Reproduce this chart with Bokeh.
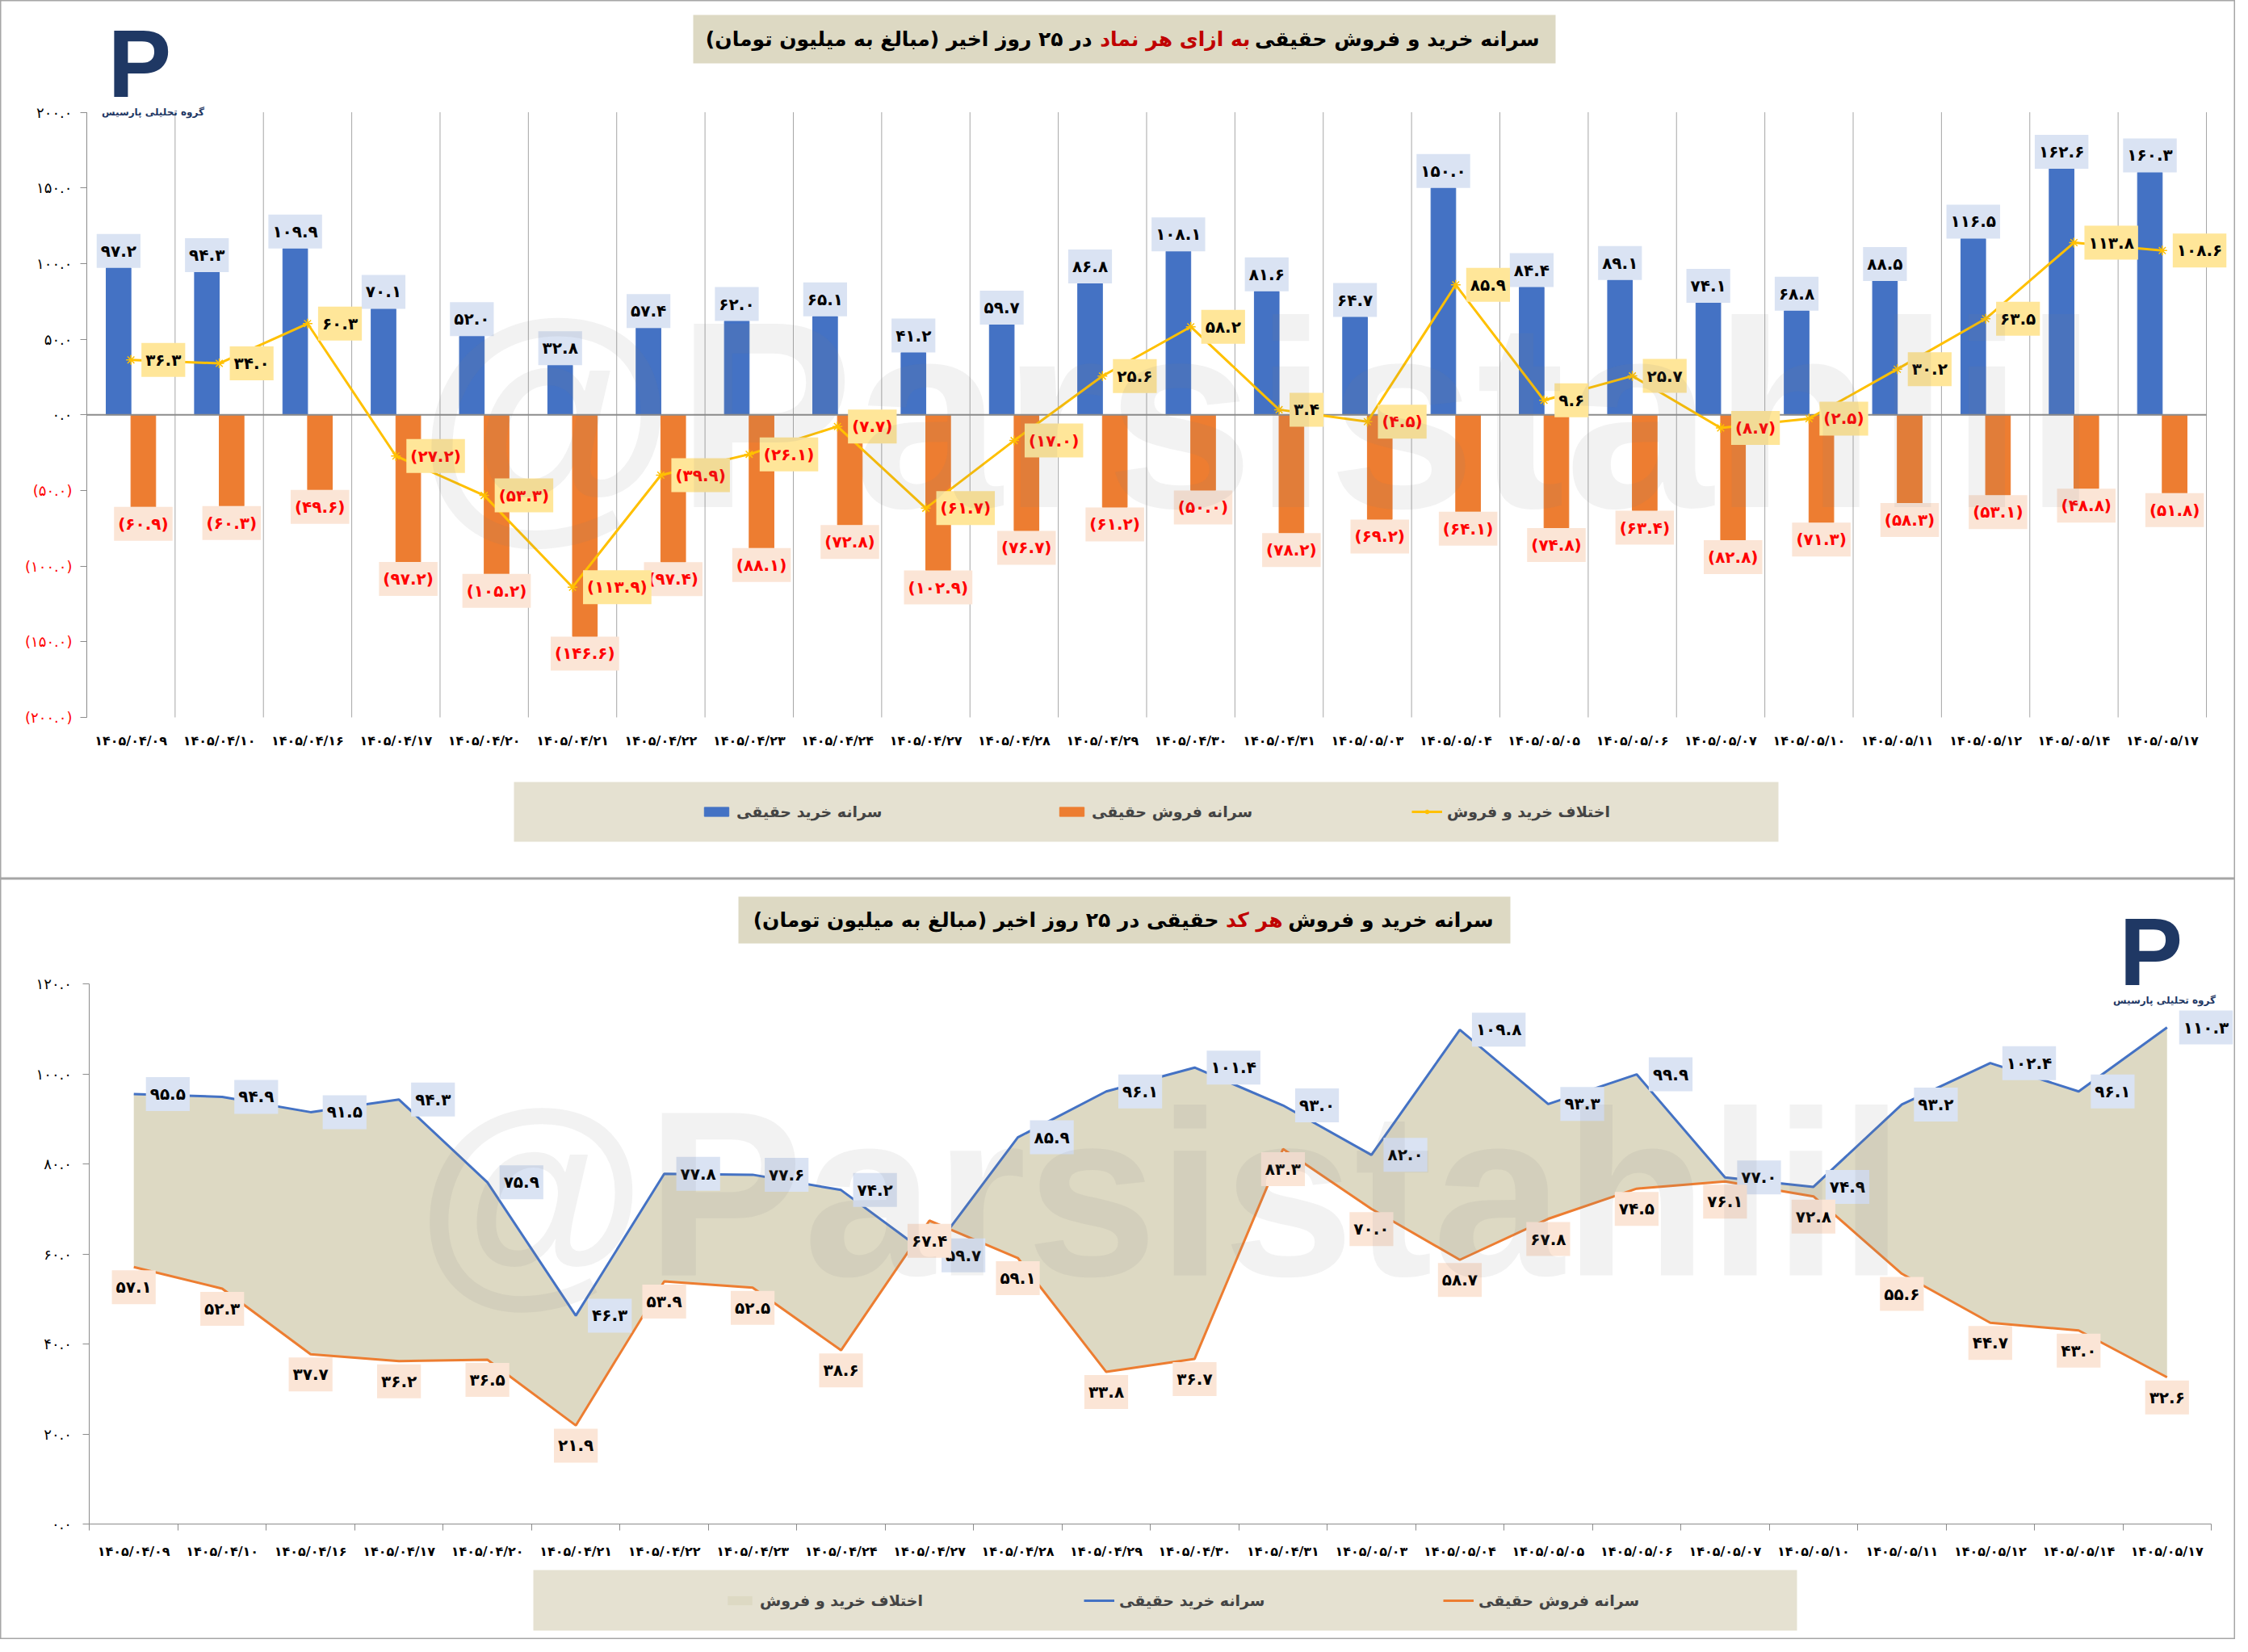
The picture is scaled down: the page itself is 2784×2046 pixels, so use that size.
from bokeh.plotting import figure
from bokeh.layouts import column
from bokeh.models import (ColumnDataSource, FixedTicker, Label, BoxAnnotation,
                          Legend, LegendItem)
from bokeh.core.properties import value
from bokeh.embed import file_html
from bokeh.resources import INLINE

# ---- data -------------------------------------------------------------
dates = ["1405/04/09", "1405/04/10", "1405/04/16", "1405/04/17", "1405/04/20",
         "1405/04/21", "1405/04/22", "1405/04/23", "1405/04/24", "1405/04/27",
         "1405/04/28", "1405/04/29", "1405/04/30", "1405/04/31", "1405/05/03",
         "1405/05/04", "1405/05/05", "1405/05/06", "1405/05/07", "1405/05/10",
         "1405/05/11", "1405/05/12", "1405/05/14", "1405/05/17"]

# per symbol (top chart)
buy_symbol = [97.2, 94.3, 109.9, 70.1, 52.0, 32.8, 57.4, 62.0, 65.1, 41.2, 59.7, 86.8,
              108.1, 81.6, 64.7, 150.0, 84.4, 89.1, 74.1, 68.8, 88.5, 116.5, 162.6, 160.3]
sell_symbol = [60.9, 60.3, 49.6, 97.2, 105.2, 146.6, 97.4, 88.1, 72.8, 102.9, 76.7, 61.2,
               50.0, 78.2, 69.2, 64.1, 74.8, 63.4, 82.8, 71.3, 58.3, 53.1, 48.8, 51.8]
diff_symbol = [36.3, 34.0, 60.3, -27.2, -53.3, -113.9, -39.9, -26.1, -7.7, -61.7, -17.0, 25.6,
               58.2, 3.4, -4.5, 85.9, 9.6, 25.7, -8.7, -2.5, 30.2, 63.5, 113.8, 108.6]

# per code (bottom chart)
buy_code = [95.5, 94.9, 91.5, 94.3, 75.9, 46.3, 77.8, 77.6, 74.2, 59.7, 85.9, 96.1,
            101.4, 93.0, 82.0, 109.8, 93.3, 99.9, 77.0, 74.9, 93.2, 102.4, 96.1, 110.3]
sell_code = [57.1, 52.3, 37.7, 36.2, 36.5, 21.9, 53.9, 52.5, 38.6, 67.4, 59.1, 33.8,
             36.7, 83.3, 70.0, 58.7, 67.8, 74.5, 76.1, 72.8, 55.6, 44.7, 43.0, 32.6]

top_yticks = [-200, -150, -100, -50, 0, 50, 100, 150, 200]
bottom_yticks = [0, 20, 40, 60, 80, 100, 120]

# ---- helpers ----------------------------------------------------------
FA = str.maketrans("0123456789", "۰۱۲۳۴۵۶۷۸۹")
RLM = "\u200f"
FONT = "DejaVu Sans"
BLUE, ORANGE, YELLOW = "#4472c4", "#ed7d31", "#ffc000"
GRAY = "#8c8c8c"
TAN = "#ddd9c3"
LEGBG = "#e5e1d1"


def fa(v):
    s = f"{abs(v):.1f}".translate(FA)
    return f"({s})" if v < 0 else s


n = len(dates)
centers = [i + 0.5 for i in range(n)]
edges = list(range(n + 1))
fa_dates = [d.translate(FA) for d in dates]
W = 2768


def screen_box(p, left, right, top, bottom, color):
    p.add_layout(BoxAnnotation(left=left, right=right, top=top, bottom=bottom,
                               left_units="screen", right_units="screen",
                               top_units="screen", bottom_units="screen",
                               fill_color=color, fill_alpha=1, line_color=None))


def title_parts(p, parts, y):
    for txt, col, x in parts:
        p.add_layout(Label(x=x, y=y, x_units="screen", y_units="screen",
                           text=RLM + txt + RLM, text_font=FONT, text_font_style="bold",
                           text_font_size="25px", text_color=col,
                           text_align="right", text_baseline="middle"))


def logo(p, x, y):
    p.add_layout(Label(x=x, y=y, x_units="screen", y_units="screen", text="P",
                       text_font="Liberation Sans", text_font_style="bold",
                       text_font_size="118px", text_color="#1f3864",
                       text_baseline="middle"))
    p.add_layout(Label(x=x + 56, y=y - 60, x_units="screen", y_units="screen",
                       text="گروه تحلیلی پارسیس", text_font=FONT, text_font_style="bold",
                       text_font_size="12px", text_color="#1f3864",
                       text_align="center", text_baseline="middle"))


def watermark(p, x, y, size):
    p.add_layout(Label(x=x, y=y, x_units="screen", y_units="screen", text="@Parsistahlil",
                       text_font="Liberation Sans", text_font_style="bold",
                       text_font_size=size, text_color="#808080", text_alpha=0.1,
                       text_baseline="middle"))


def legend(items, x, y, lw):
    return Legend(items=items, orientation="horizontal", location=(x, y), padding=0,
                  margin=0, spacing=0, glyph_width=38, glyph_height=14, label_standoff=6,
                  label_width=lw, label_height=26, label_text_font=FONT,
                  label_text_font_style="bold", label_text_font_size="19px",
                  background_fill_alpha=0, border_line_color=None)


lab = dict(text_font=value(FONT), text_font_style="bold", text_font_size="20px",
           padding=(5, 9))

# ---- top chart: per symbol -------------------------------------------
# frame covers the whole canvas; axes are pinned inside it
H1 = 1088
p1 = figure(width=W, height=H1, x_range=(-0.978, n + 0.329), y_range=(-306.74, 273.92),
            output_backend="svg", toolbar_location=None, min_border=0)
p1.outline_line_color = "#a6a6a6"
p1.outline_line_width = 2
p1.grid.visible = False

p1.xaxis.fixed_location = top_yticks[0]
p1.xaxis.bounds = (0, n)
p1.xaxis.ticker = FixedTicker(ticks=centers)
p1.xaxis.major_label_overrides = {c: d for c, d in zip(centers, fa_dates)}
p1.xaxis.axis_line_color = None
p1.xaxis.major_tick_line_color = None
p1.xaxis.major_tick_out = 0
p1.xaxis.minor_tick_line_color = None
p1.xaxis.major_label_standoff = 20
p1.xaxis.major_label_text_font = FONT
p1.xaxis.major_label_text_font_style = "bold"
p1.xaxis.major_label_text_font_size = "16px"
p1.xaxis.major_label_text_color = "black"

p1.yaxis.fixed_location = 0
p1.yaxis.bounds = (top_yticks[0], top_yticks[-1])
p1.yaxis.ticker = FixedTicker(ticks=top_yticks)
p1.yaxis.major_label_overrides = {t: "" for t in top_yticks}
p1.yaxis.axis_line_color = GRAY
p1.yaxis.major_tick_line_color = GRAY
p1.yaxis.major_tick_out = 8
p1.yaxis.major_tick_in = 0
p1.yaxis.minor_tick_line_color = None

# category separators (vertical grid)
p1.segment(x0=edges, x1=edges, y0=top_yticks[0], y1=top_yticks[-1], line_color="#a6a6a6",
           line_width=1)

ytick_src = ColumnDataSource(dict(x=[0] * len(top_yticks), y=top_yticks,
                                  t=[fa(t) for t in top_yticks],
                                  c=["red" if t < 0 else "black" for t in top_yticks]))
p1.text(x="x", y="y", text="t", text_color="c", x_offset=-18, text_align="right",
        text_baseline="middle", text_font=value(FONT), text_font_size="18px", source=ytick_src)

src1 = ColumnDataSource(dict(
    xb=[c - 0.14 for c in centers], xs=[c + 0.14 for c in centers], xc=centers,
    buy=buy_symbol, sell=[-v for v in sell_symbol], diff=diff_symbol,
    buy_t=[fa(v) for v in buy_symbol], sell_t=[fa(-v) for v in sell_symbol],
    diff_t=[fa(v) for v in diff_symbol],
    diff_c=["red" if v < 0 else "black" for v in diff_symbol]))

r_buy = p1.vbar(x="xb", top="buy", bottom=0, width=0.28, color=BLUE, source=src1)
r_sell = p1.vbar(x="xs", top="sell", bottom=0, width=0.28, color=ORANGE, source=src1)
p1.segment(x0=[0], x1=[n], y0=[0], y1=[0], line_color=GRAY, line_width=2)
r_dl = p1.line(x="xc", y="diff", line_color=YELLOW, line_width=3, source=src1)
r_dm = p1.scatter(x="xc", y="diff", marker="asterisk", size=12, line_color=YELLOW,
                  line_width=1.5, source=src1)

p1.text(x="xb", y="buy", text="buy_t", text_align="center", text_baseline="bottom",
        y_offset=0, text_color="black", background_fill_color="#dae3f3", source=src1, **lab)
p1.text(x="xs", y="sell", text="sell_t", text_align="center", text_baseline="top",
        y_offset=0, text_color="red", background_fill_color="#fbe5d6", source=src1, **lab)
p1.text(x="xc", y="diff", text="diff_t", text_align="left", text_baseline="middle",
        x_offset=13, text_color="diff_c", background_fill_color="#ffe699", source=src1, **lab)

watermark(p1, 515, 575, "330px")
screen_box(p1, 858, 1926, 1070, 1010, TAN)
title_parts(p1, [("سرانه خرید و فروش حقیقی", "black", 1906),
                 ("به ازای هر نماد", "#c00000", 1548),
                 ("در ۲۵ روز اخیر (مبالغ به میلیون تومان)", "black", 1352)], 1040)
logo(p1, 133, 1010)

screen_box(p1, 636, 2202, 120, 46, LEGBG)
p1.add_layout(legend([LegendItem(label="سرانه خرید حقیقی", renderers=[r_buy]),
                      LegendItem(label="سرانه فروش حقیقی", renderers=[r_sell]),
                      LegendItem(label="اختلاف خرید و فروش", renderers=[r_dl, r_dm])],
                     868, 70, 396))

# ---- bottom chart: per code ------------------------------------------
H2 = 942
p2 = figure(width=W, height=H2, x_range=(-1.009, n + 0.274), y_range=(-25.65, 143.32),
            output_backend="svg", toolbar_location=None, min_border=0)
p2.outline_line_color = "#a6a6a6"
p2.outline_line_width = 2
p2.grid.visible = False

p2.xaxis.fixed_location = bottom_yticks[0]
p2.xaxis.bounds = (0, n)
p2.xaxis.ticker = FixedTicker(ticks=centers, minor_ticks=edges)
p2.xaxis.major_label_overrides = {c: d for c, d in zip(centers, fa_dates)}
p2.xaxis.axis_line_color = GRAY
p2.xaxis.major_tick_line_color = None
p2.xaxis.major_tick_out = 0
p2.xaxis.minor_tick_line_color = GRAY
p2.xaxis.minor_tick_out = 8
p2.xaxis.minor_tick_in = 0
p2.xaxis.major_label_standoff = 16
p2.xaxis.major_label_text_font = FONT
p2.xaxis.major_label_text_font_style = "bold"
p2.xaxis.major_label_text_font_size = "16px"
p2.xaxis.major_label_text_color = "black"

p2.yaxis.fixed_location = 0
p2.yaxis.bounds = (bottom_yticks[0], bottom_yticks[-1])
p2.yaxis.ticker = FixedTicker(ticks=bottom_yticks)
p2.yaxis.major_label_overrides = {t: fa(t) for t in bottom_yticks}
p2.yaxis.axis_line_color = GRAY
p2.yaxis.major_tick_line_color = GRAY
p2.yaxis.major_tick_out = 8
p2.yaxis.major_tick_in = 0
p2.yaxis.minor_tick_line_color = None
p2.yaxis.major_label_standoff = 14
p2.yaxis.major_label_text_font = FONT
p2.yaxis.major_label_text_font_size = "18px"
p2.yaxis.major_label_text_color = "black"

src2 = ColumnDataSource(dict(x=centers, buy=buy_code, sell=sell_code,
                             buy_t=[fa(v) for v in buy_code],
                             sell_t=[fa(v) for v in sell_code]))
r_area = p2.varea(x="x", y1="sell", y2="buy", fill_color=TAN, source=src2)
r_bl = p2.line(x="x", y="buy", line_color=BLUE, line_width=3, source=src2)
r_sl = p2.line(x="x", y="sell", line_color=ORANGE, line_width=3, source=src2)

p2.text(x="x", y="buy", text="buy_t", text_align="left", text_baseline="middle",
        x_offset=15, text_color="black", background_fill_color="#dae3f3", source=src2, **lab)
p2.text(x="x", y="sell", text="sell_t", text_align="center", text_baseline="top",
        y_offset=4, text_color="black", background_fill_color="#fbe5d6", source=src2, **lab)

watermark(p2, 515, 552, "292px")
screen_box(p2, 914, 1870, 920, 862, TAN)
title_parts(p2, [("سرانه خرید و فروش", "black", 1849),
                 ("هر کد", "#c00000", 1588),
                 ("حقیقی در ۲۵ روز اخیر (مبالغ به میلیون تومان)", "black", 1509)], 891)
logo(p2, 2624, 852)

screen_box(p2, 660, 2225, 86, 11, LEGBG)
p2.add_layout(legend([LegendItem(label="اختلاف خرید و فروش", renderers=[r_area]),
                      LegendItem(label="سرانه خرید حقیقی", renderers=[r_bl]),
                      LegendItem(label="سرانه فروش حقیقی", renderers=[r_sl])],
                     897, 35, 401))

layout = column(p1, p2)
open("out.html", "w").write(file_html(layout, INLINE))
